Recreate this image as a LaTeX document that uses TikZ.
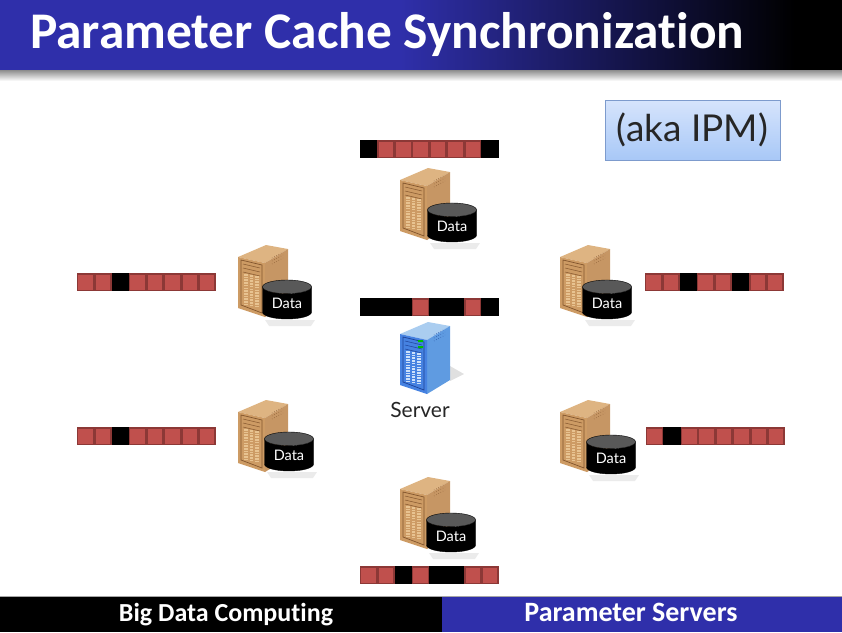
\documentclass[tikz,border=0pt]{standalone}
\usepackage{fontspec}
\setmainfont{Lato}
\newfontfamily\titlefont[Ligatures=NoCommon]{Carlito}
\usetikzlibrary{shapes.geometric}
\definecolor{slideblue}{RGB}{47,47,170}
\definecolor{cellred}{RGB}{192,80,77}
\definecolor{cellrim}{RGB}{140,56,54}
\definecolor{akatop}{RGB}{214,228,252}
\definecolor{akabot}{RGB}{168,200,247}
\definecolor{akarim}{RGB}{125,155,205}
\definecolor{woodtop}{RGB}{222,180,130}
\definecolor{woodside}{RGB}{198,150,100}
\definecolor{woodfront}{RGB}{205,155,100}
\definecolor{woodline}{RGB}{130,85,45}
\definecolor{woodslot}{RGB}{232,195,145}
\definecolor{bluetop}{RGB}{170,205,240}
\definecolor{blueside}{RGB}{95,155,225}
\definecolor{bluefront}{RGB}{70,130,225}
\definecolor{blueline}{RGB}{30,65,150}
\definecolor{blueslot}{RGB}{205,225,250}
\begin{document}
\begin{tikzpicture}[
        x=1pt,
        y=-1pt,
        cell/.style={rectangle, draw, line width=1.4pt, minimum width=16pt, minimum height=16.4pt, inner sep=0pt, outer sep=0pt},
        cellR/.style={cell, fill=cellred, draw=cellrim},
        cellK/.style={cell, fill=black, draw=black},
        datadisk/.style={cylinder, shape border rotate=90, aspect=0.45, minimum width=49pt, minimum height=39pt, inner sep=0pt,
            cylinder uses custom fill, cylinder body fill=black, cylinder end fill=black!65, draw=black, text=white, font=\fontsize{14.5}{15}\selectfont},
        titletext/.style={text=white, font=\titlefont\bfseries\fontsize{51.4}{51}\selectfont, inner sep=0pt},
        foottext/.style={text=white, font=\titlefont\bfseries\fontsize{26}{26}\selectfont, inner sep=0pt},
        pics/tower/.style n args={5}{code={
            \fill[#1] (0,12) -- (28,0) -- (50,4) -- (27,18) -- cycle;
            \fill[#2] (27,18) -- (50,4) -- (50,58) -- (27,72) -- cycle;
            \fill[#3] (0,12) -- (27,18) -- (27,72) -- (0,63) -- cycle;
            \draw[#4, line width=0.7pt] (3,15) -- (24,20) -- (24,68) -- (3,60) -- cycle;
            \draw[#4, line width=0.5pt] (5,19) -- (22,23) (5,23) -- (22,27) (5,27) -- (22,31);
            \draw[#5, line width=3.4pt, dash pattern=on 1.6pt off 1.1pt] (8,29) -- (8,60);
            \draw[#5, line width=3.4pt, dash pattern=on 1.6pt off 1.1pt] (13.5,30) -- (13.5,62);
            \draw[#5, line width=3.4pt, dash pattern=on 1.6pt off 1.1pt] (19,31) -- (19,63);
            \draw[#4, line width=0.5pt, dotted] (34,13) -- (45,7) (34,16) -- (45,10) (34,19) -- (45,13);
        }}
    ]
    \useasboundingbox (0,0) rectangle (842,632);
    % title band
    \fill[slideblue] (0,0) rectangle (401,70);
    \shade[left color=slideblue, right color=black] (400,0) rectangle (795,70);
    \fill[black] (794,0) rectangle (842,70);
    \shade[top color=black!45, bottom color=black!4] (0,70) rectangle (842,80);
    \node[titletext, anchor=west] (title) at (30,35) {Parameter Cache Synchronization};
    % footer band
    \fill[black!35] (0,596) rectangle (842,597);
    \fill[black] (0,597) rectangle (442,632);
    \fill[slideblue] (442,597) rectangle (842,632);
    \node[foottext] (footleft) at (226,615) {Big Data Computing};
    \node[foottext, font=\titlefont\bfseries\fontsize{28}{28}\selectfont] (footright) at (631,612) {Parameter Servers};
    % aka box
    \node[rectangle, draw=akarim, line width=0.8pt, top color=akatop, bottom color=akabot,
        minimum width=175pt, minimum height=60pt, inner sep=0pt,
        font=\fontsize{37}{37}\selectfont, text=black!85] (aka) at (692.5,130) {(aka IPM)};
    % machines
    \foreach \mach/\mx/\my/\dx/\dy in {top/400/168/452/226, lup/238/245/287/303, rup/560/245/607/303,
            llo/238/400/289/455, rlo/560/400/611/458, bot/400/477/451/536} {
        \fill[black!8] (\dx-22,\dy+17) -- (\dx+28,\dy+17) -- (\dx+24,\dy+23) -- (\dx-18,\dy+23) -- cycle;
        \pic at (\mx,\my) {tower={woodtop}{woodside}{woodfront}{woodline}{woodslot}};
        \node[datadisk] (disk\mach) at (\dx,\dy) {Data};
    }
    % server
    \fill[black!12] (450,366) -- (464,374) -- (450,381) -- cycle;
    \pic at (400,322) {tower={bluetop}{blueside}{bluefront}{blueline}{blueslot}};
    \fill[green!75!black] (418,340) rectangle (423,342) (418,346) rectangle (423,348);
    \node[inner sep=0pt, font=\fontsize{21}{21}\selectfont, text=black!85] (serverlabel) at (420,410) {Server};
    % parameter caches
    \foreach \bar/\bx/\by/\pattern in {
            ctop/360/149/{K,R,R,R,R,R,R,K},
            clu/77/282/{R,R,K,R,R,R,R,R},
            cru/645/282/{R,R,K,R,R,K,R,R},
            cmid/360/307/{K,K,K,R,K,K,R,K},
            cll/77/436/{R,R,K,R,R,R,R,R},
            crl/646/436/{R,K,R,R,R,R,R,R},
            cbot/360/575/{R,R,K,R,K,K,R,R}} {
        \foreach \c [count=\i from 0] in \pattern {
            \node[cell\c, anchor=west] (\bar_\i) at (\bx+0.7+17.35*\i,\by) {};
        }
    }
\end{tikzpicture}
\end{document}
